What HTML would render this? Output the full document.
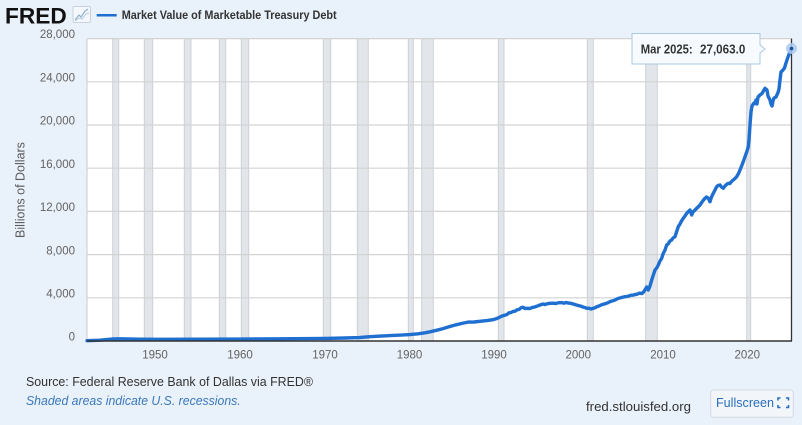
<!DOCTYPE html>
<html>
<head>
<meta charset="utf-8">
<style>
html,body{margin:0;padding:0;background:#e9f1fa;}
svg{display:block;font-family:"Liberation Sans",Arial,sans-serif;}
</style>
</head>
<body>
<svg width="802" height="425" viewBox="0 0 802 425" xmlns="http://www.w3.org/2000/svg">
  <rect x="0" y="0" width="802" height="425" fill="#e9f1fa"/>

  <!-- Header -->
  <text x="5" y="23.3" font-size="22" font-weight="bold" fill="#111" textLength="61.7" lengthAdjust="spacingAndGlyphs">FRED</text>
  <rect x="73" y="6.5" width="17.5" height="16" fill="#f4f7fb" stroke="#c9d2dc" stroke-width="1" rx="1.5"/>
  <polyline points="75,20 79,15 81,17 85,11 88,9" fill="none" stroke="#8fb0d4" stroke-width="1.2"/>
  <polyline points="75,21 79,18 82,19 86,14 89,13" fill="none" stroke="#b8cbe0" stroke-width="1"/>
  <line x1="96.7" y1="15.3" x2="116.7" y2="15.3" stroke="#1f6fd1" stroke-width="2.5"/>
  <text x="121.7" y="19" font-size="12" font-weight="bold" fill="#333" textLength="215" lengthAdjust="spacingAndGlyphs">Market Value of Marketable Treasury Debt</text>

  <!-- Plot area -->
  <rect x="87" y="38.6" width="705" height="302.4" fill="#ffffff"/>

  <!-- Recession bars -->
  <g fill="#e2e5e9" stroke="#cdd1d6" stroke-width="1">
    <rect x="112.7" y="38.6" width="6" height="302.4"/>
    <rect x="144.3" y="38.6" width="8.4" height="302.4"/>
    <rect x="184.3" y="38.6" width="6.7" height="302.4"/>
    <rect x="219.3" y="38.6" width="6.4" height="302.4"/>
    <rect x="241.3" y="38.6" width="7.4" height="302.4"/>
    <rect x="323.3" y="38.6" width="7.4" height="302.4"/>
    <rect x="357.3" y="38.6" width="11" height="302.4"/>
    <rect x="408.3" y="38.6" width="5" height="302.4"/>
    <rect x="421.7" y="38.6" width="11.6" height="302.4"/>
    <rect x="498.3" y="38.6" width="5.7" height="302.4"/>
    <rect x="587.3" y="38.6" width="6" height="302.4"/>
    <rect x="645.7" y="38.6" width="11.6" height="302.4"/>
    <rect x="746.7" y="38.6" width="4" height="302.4"/>
  </g>

  <!-- Gridlines -->
  <g stroke="#d3d3d3" stroke-width="1.2">
    <line x1="87" y1="38.6" x2="792" y2="38.6"/>
    <line x1="87" y1="81.8" x2="792" y2="81.8"/>
    <line x1="87" y1="125" x2="792" y2="125"/>
    <line x1="87" y1="168.2" x2="792" y2="168.2"/>
    <line x1="87" y1="211.4" x2="792" y2="211.4"/>
    <line x1="87" y1="254.6" x2="792" y2="254.6"/>
    <line x1="87" y1="297.8" x2="792" y2="297.8"/>
    <line x1="87" y1="38.6" x2="87" y2="341"/>
  </g>

  <!-- Y labels -->
  <g font-size="11.5" fill="#636363" text-anchor="end">
    <text x="75" y="38">28,000</text>
    <text x="75" y="81.5">24,000</text>
    <text x="75" y="124.7">20,000</text>
    <text x="75" y="167.9">16,000</text>
    <text x="75" y="211.1">12,000</text>
    <text x="75" y="254.3">8,000</text>
    <text x="75" y="297.5">4,000</text>
    <text x="75" y="340.7">0</text>
  </g>
  <text transform="translate(24.5,190) rotate(-90)" font-size="12.5" fill="#5a5a5a" text-anchor="middle">Billions of Dollars</text>

  <!-- X labels -->
  <g font-size="11.5" fill="#636363" text-anchor="middle">
    <text x="155" y="358.3">1950</text>
    <text x="240" y="358.3">1960</text>
    <text x="325" y="358.3">1970</text>
    <text x="409.5" y="358.3">1980</text>
    <text x="494" y="358.3">1990</text>
    <text x="578.3" y="358.3">2000</text>
    <text x="663" y="358.3">2010</text>
    <text x="747.3" y="358.3">2020</text>
  </g>

  <!-- Series -->
  <polyline fill="none" stroke="#1f6fd1" stroke-width="3.4" stroke-linejoin="round" stroke-linecap="round"
    points="87,340.7 100,340.2 113,339 120,338.8 140,339.2 160,339.3 200,339.2 240,339.1 280,338.8 325,338.4 345,338 359,337.6 368,336.8 376,336.3 390,335.6 401,335.1 410,334.6 418,333.8 425,332.8 430,331.8 437,330.2 443,328.6 449,326.8 456,324.8 462,323.4 468,322.1 474,322 481,321.2 487,320.6 493,319.7 496,318.8 498,318 502,316 505,315.2 507,314.5 509,312.8 511,312.6 513,311.4 515,311.2 517,309.8 519,309.5 521,307.8 523,307.2 525,308.6 527,308.3 530,308.5 532,307.6 534,307.2 536,306.5 538,305.8 540,305 543,304 545,304.6 547,303.8 550,303.3 553,303.2 556,303.5 558,302.8 562,302.6 564,303.2 566,302.5 568,303 570,303.2 574,304.2 578,305.5 581,306.2 583,307 585,307.6 587,308.3 589,308.2 591,309 593,308.4 595,307.8 597,306.6 599,306 601,305 603,304.3 605,303.8 608,302.7 610,301.6 612,301 614,300.4 616,299.6 618,298.4 620,298 622,297.4 625,296.7 627,296.4 629,296 631,295.2 633,295.2 635,294.5 637,294.3 639,293.2 642,293.5 644,291.5 646.7,287 648.3,290 650,286 651.7,280 653,276 655,270 657,267.5 658.3,265 660,261 661.7,258.3 663,254 665,250 666.7,245 668,244 670,241 671.7,240 673,238 675,236.7 676.5,232 678.3,226.7 680,224 681.5,221 683.3,218.3 685,216 686.7,213.3 688,212 690,210 691.7,215 693,212 695,210 697,208 698.5,206.5 700,205 702,202 703.5,200 705,198.3 706.5,197 708.3,198.3 710,201.7 711.5,197 713.3,193.3 715,190 716.7,186.7 718,185.5 720,185 721.5,187 723.3,188.3 725,186 726.5,184.5 728.3,183.3 730,183.5 731.5,181.5 733.3,180 735,178.5 736.7,176.7 738.5,173.5 740,170 742,165 743.5,161 745,156.7 746.7,152 748.3,146.7 749,140 750,125 751,112 752,106 754,103 755,103.5 756,100 757,104 758,97 760,95 762,93.5 764,90 765,88.3 767,90 768,96 770,100 771,104 772,106 773,101 774,98 776,97 778,92.5 779,89 780,80 781,72 783,70 784.5,68 786,63 787,60 788,57 789.5,53 791.5,48.5"/>

  <!-- X axis line -->
  <line x1="87" y1="341" x2="792" y2="341" stroke="#333" stroke-width="1.5"/>
  <!-- Crosshair -->
  <line x1="791.5" y1="38.6" x2="791.5" y2="341" stroke="#333" stroke-width="1.3"/>
  <!-- Marker -->
  <circle cx="791.5" cy="48.5" r="5.5" fill="#a9c9f0" opacity="0.85"/>
  <circle cx="791.5" cy="48.5" r="1.8" fill="#1a4f96"/>

  <!-- Tooltip -->
  <path d="M632,33.5 H760 V45 L765,49 L760,53 V64 H632 Z" fill="#f7fbff" stroke="#a9c8e2" stroke-width="1"/>
  <text x="640.7" y="53.3" font-size="12.5" font-weight="bold" fill="#333" textLength="52" lengthAdjust="spacingAndGlyphs">Mar 2025:</text>
  <text x="700" y="53.3" font-size="12.5" font-weight="bold" fill="#333" textLength="45.3" lengthAdjust="spacingAndGlyphs">27,063.0</text>

  <!-- Footer -->
  <text x="26" y="386" font-size="13" fill="#333" textLength="287" lengthAdjust="spacingAndGlyphs">Source: Federal Reserve Bank of Dallas via FRED®</text>
  <text x="26" y="405" font-size="13" font-style="italic" fill="#3a78bd" textLength="214.7" lengthAdjust="spacingAndGlyphs">Shaded areas indicate U.S. recessions.</text>
  <text x="586" y="411" font-size="13" fill="#333" textLength="105" lengthAdjust="spacingAndGlyphs">fred.stlouisfed.org</text>

  <!-- Fullscreen button -->
  <rect x="710.7" y="390" width="82.6" height="27.3" rx="3" fill="#f2f6fa" stroke="#d2dae3" stroke-width="1"/>
  <text x="716" y="407" font-size="13" fill="#2a6ebb" textLength="58" lengthAdjust="spacingAndGlyphs">Fullscreen</text>
  <g stroke="#2a6ebb" stroke-width="1.6" fill="none">
    <polyline points="778,400.5 778,398 780.5,398"/>
    <polyline points="786,398 788.5,398 788.5,400.5"/>
    <polyline points="778,405 778,407.5 780.5,407.5"/>
    <polyline points="786,407.5 788.5,407.5 788.5,405"/>
  </g>
</svg>
</body>
</html>
